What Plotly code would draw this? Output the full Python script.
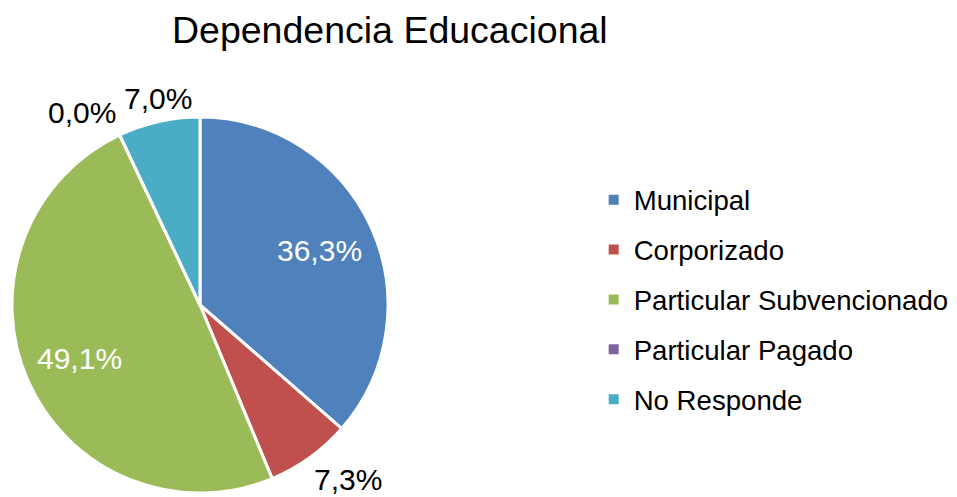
import math
import plotly.graph_objects as go

# Data
categories = ["Municipal", "Corporizado", "Particular Subvencionado", "Particular Pagado", "No Responde"]
shares = [36.3, 7.3, 49.1, 0.0, 7.0]
label_inside = [True, False, True, False, False]

COLORS = ["#4F81BD", "#C0504D", "#9BBB59", "#8064A2", "#4BACC6"]
FONT = "Liberation Sans, Arial, sans-serif"
W, H = 957, 497
CX, CY, R = 192, 297, 188  # pie centre and radius in figure pixels (page adds 8px body margin)

fig = go.Figure()

fig.add_trace(go.Pie(
    labels=categories, values=shares,
    sort=False, direction="clockwise", rotation=0,
    marker=dict(colors=COLORS, line=dict(color="white", width=3)),
    textinfo="none",
    domain=dict(x=[(CX - R) / W, (CX + R) / W],
                y=[(H - CY - R) / H, (H - CY + R) / H]),
    showlegend=False,
    hoverinfo="label+value",
))

# data labels Excel-style: inside ones at 0.7R on the bisector, outside ones
# just past the rim (plotly drops the zero slice label and stacks the others)
total = sum(shares)
cum = 0.0
for v, inside in zip(shares, label_inside):
    ang = math.radians((cum + v / 2) / total * 360)
    cum += v
    dx, dy = math.sin(ang), -math.cos(ang)
    txt = f"{v:.1f}%".replace(".", ",")
    if inside:
        px, py = CX + 0.7 * R * dx, CY + 0.7 * R * dy
        xa, ya, col = "center", "middle", "white"
    else:
        px, py = CX + 1.03 * R * dx, CY + 1.03 * R * dy
        xa = "center" if abs(dx) < 0.3 else ("left" if dx > 0 else "right")
        ya = "top" if dy > 0 else "bottom"
        col = "black"
    fig.add_annotation(
        text=txt, showarrow=False, xref="paper", yref="paper",
        x=px / W, y=1 - py / H, xanchor=xa, yanchor=ya,
        borderpad=0, font=dict(size=30, family=FONT, color=col),
    )

# legend entries as square markers, one group each so they can be spaced out
for name, color in zip(categories, COLORS):
    fig.add_trace(go.Scatter(
        x=[None], y=[None], mode="markers", name=name,
        legendgroup=name,
        marker=dict(symbol="square", size=10, color=color),
    ))

fig.update_layout(
    width=W, height=H,
    title=dict(text="Dependencia Educacional", x=0.399, xanchor="center",
               y=0.956, yanchor="middle",
               font=dict(size=37.5, family=FONT, color="black")),
    font=dict(family=FONT, color="black"),
    margin=dict(l=0, r=0, t=0, b=0),
    paper_bgcolor="white", plot_bgcolor="white",
    xaxis=dict(visible=False), yaxis=dict(visible=False),
    legend=dict(x=0.612, y=0.413, xanchor="left", yanchor="middle",
                font=dict(size=27.6, family=FONT, color="black"),
                tracegroupgap=11, itemwidth=30),
)

fig.write_html("out.html")
